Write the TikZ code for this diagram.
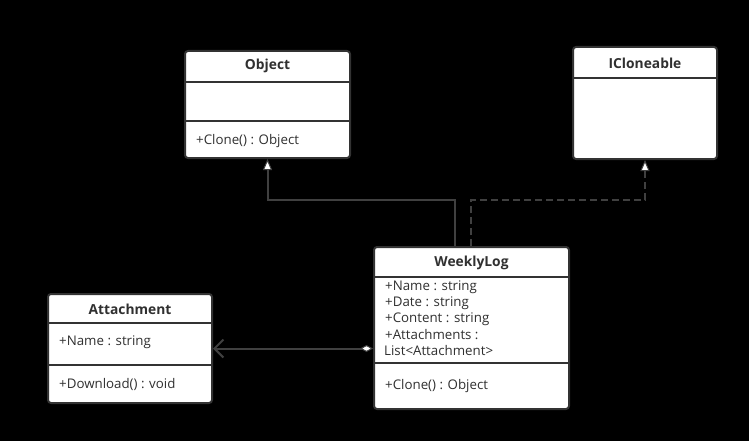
\documentclass[tikz,border=0pt]{standalone}
\usepackage{fontspec}
\setmainfont{Open Sans}
\usetikzlibrary{arrows.meta}
\definecolor{edge}{HTML}{333333}
\definecolor{wire}{HTML}{404040}
\definecolor{txt}{HTML}{303030}
\begin{document}
\begin{tikzpicture}[x=1pt,y=-1pt,
  cls/.style={draw=edge, line width=2pt, fill=white, rounded corners=3pt, inner sep=0pt},
  ttl/.style={font=\fontsize{13.8}{16}\selectfont\bfseries, text=txt, inner sep=0pt},
  member/.style={font=\fontsize{13.3}{16}\selectfont, text=txt, anchor=west, align=left, inner sep=0pt},
  divider/.style={draw=edge, line width=2pt},
  wirestyle/.style={draw=wire, line width=2pt},
  gen/.style={wirestyle, -{Triangle[length=11pt,width=9pt,fill=white,line width=1pt]}},
  real/.style={gen, dash pattern=on 7pt off 4pt},
  aggr/.style={wirestyle, {Diamond[length=13pt,width=7pt,fill=white,line width=1pt]}-{Straight Barb[length=9pt,width=18pt,line width=2pt]}}
]
\fill[black] (0,0) rectangle (749,441);
\useasboundingbox (0,0) rectangle (749,441);

% Object
\node[cls, minimum width=165pt, minimum height=107pt] (obj) at (267.5,104.5) {};
\node[ttl] (objt) at (267.5,66) {Object};
\draw[divider] (185,82) -- (350,82);
\draw[divider] (185,121) -- (350,121);
\node[member] (objm) at (196,141) {+Clone() : Object};

% ICloneable
\node[cls, minimum width=144pt, minimum height=112pt] (icl) at (645,103) {};
\node[ttl] (iclt) at (645,63) {ICloneable};
\draw[divider] (573,78) -- (717,78);

% WeeklyLog
\node[cls, minimum width=195pt, minimum height=162pt] (wl) at (471.5,328) {};
\node[ttl] (wlt) at (471.5,263) {WeeklyLog};
\draw[divider] (374,277) -- (569,277);
\node[member] (wla) at (385,287) {+Name : string};
\node[member] (wlb) at (385,303) {+Date : string};
\node[member] (wlc) at (385,319) {+Content : string};
\node[member] (wld) at (385,335) {+Attachments :};
\node[member] (wle) at (384,351) {List<Attachment>};
\draw[divider] (374,363) -- (569,363);
\node[member] (wlm) at (385,386) {+Clone() : Object};

% Attachment
\node[cls, minimum width=164pt, minimum height=109pt] (att) at (130,348.5) {};
\node[ttl] (attt) at (130,309) {Attachment};
\draw[divider] (48,323) -- (212,323);
\node[member] (atta) at (59,342) {+Name : string};
\draw[divider] (48,365) -- (212,365);
\node[member] (attm) at (59,384) {+Download() : void};

% connectors
\draw[gen] ([xshift=-16.5pt]wl.north) -- ++(0,-46) -| (obj.south);
\draw[real] ([xshift=-0.5pt]wl.north) -- ++(0,-46) -| (icl.south);
\draw[aggr] ([yshift=-20.5pt]wl.west) -- (att.east);
\end{tikzpicture}
\end{document}
